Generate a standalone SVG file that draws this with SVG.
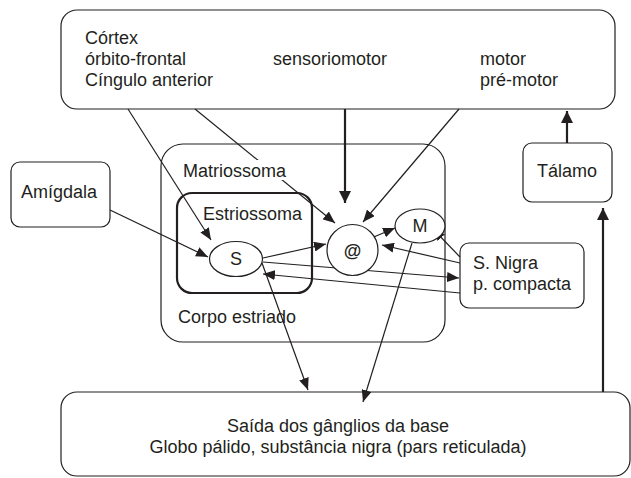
<svg xmlns="http://www.w3.org/2000/svg" width="631" height="478" viewBox="0 0 631 478">
<defs>
<style>
.box{fill:#fff;stroke:#231f20;stroke-width:1.2}
.thick{fill:#fff;stroke:#231f20;stroke-width:2.2}
.t{font-family:"Liberation Sans",Arial,sans-serif;font-size:18px;fill:#231f20}
.c{text-anchor:middle}
.ln{fill:none;stroke:#231f20;stroke-width:1.2;marker-end:url(#ah)}
.lnb{fill:none;stroke:#231f20;stroke-width:2.2;marker-end:url(#ahb)}
</style>
<marker id="ah" viewBox="0 0 12 10" refX="12" refY="5" markerWidth="12" markerHeight="10" markerUnits="userSpaceOnUse" orient="auto"><path d="M0,0 L12,5 L0,10 z" fill="#231f20"/></marker>
<marker id="ahb" viewBox="0 0 12 12" refX="12" refY="6" markerWidth="12" markerHeight="12" markerUnits="userSpaceOnUse" orient="auto"><path d="M0,0 L12,6 L0,12 z" fill="#231f20"/></marker>
</defs>
<rect width="631" height="478" fill="#fff"/>

<g id="cortex">
<rect class="box" x="61" y="10" width="554" height="99" rx="16"/>
<text class="t" x="85" y="44">Córtex</text>
<text class="t" x="85" y="65">órbito-frontal</text>
<text class="t" x="85" y="86">Cíngulo anterior</text>
<text class="t" x="273" y="65">sensoriomotor</text>
<text class="t" x="480" y="65">motor</text>
<text class="t" x="480" y="86">pré-motor</text>
</g>

<g id="talamo">
<rect class="box" x="523" y="143" width="89" height="59" rx="9"/>
<text class="t c" x="567" y="177">Tálamo</text>
</g>

<g id="amigdala">
<rect class="box" x="11" y="162" width="99" height="65" rx="9"/>
<text class="t" x="21" y="198">Amígdala</text>
</g>

<g id="corpo-estriado">
<rect class="box" x="161" y="144" width="284" height="198" rx="22"/>
<text class="t" x="178" y="323">Corpo estriado</text>
</g>

<g id="estriossoma">
<rect class="thick" x="177" y="193" width="135" height="100" rx="15"/>
<text class="t" x="203" y="220">Estriossoma</text>
</g>

<g id="snigra">
<rect class="box" x="460" y="243" width="124" height="65" rx="9"/>
<text class="t" x="473" y="269">S. Nigra</text>
<text class="t" x="473" y="290">p. compacta</text>
</g>

<g id="saida">
<rect class="box" x="61" y="392" width="569" height="84" rx="16"/>
<text class="t c" x="338" y="432">Saída dos gânglios da base</text>
<text class="t c" x="338" y="453">Globo pálido, substância nigra (pars reticulada)</text>
</g>

<g id="connectors">
<line class="ln" x1="128" y1="109" x2="211" y2="240"/>
<line class="ln" x1="195" y1="109" x2="335" y2="223"/>
<line class="lnb" x1="345" y1="109" x2="345" y2="203"/>
<line class="ln" x1="459" y1="109" x2="363" y2="222"/>
<line class="lnb" x1="567" y1="143" x2="567" y2="111"/>
<line class="lnb" x1="603" y1="392" x2="603" y2="208"/>
<line class="ln" x1="110" y1="210" x2="208" y2="257"/>
<line class="ln" x1="263" y1="258" x2="326" y2="244"/>
<line class="ln" x1="362" y1="242" x2="395" y2="228"/>
<line class="ln" x1="460" y1="257" x2="433" y2="229"/>
<line class="ln" x1="460" y1="263" x2="382" y2="245"/>
<line class="ln" x1="263" y1="262" x2="459" y2="278"/>
<line class="ln" x1="460" y1="293" x2="263" y2="274"/>
<line class="ln" x1="262" y1="263" x2="308" y2="390"/>
<line class="ln" x1="412" y1="243" x2="363" y2="402"/>
</g>

<g id="matriossoma">
<rect x="181" y="160" width="108" height="20" fill="#fff"/>
<text class="t" x="183" y="177">Matriossoma</text>
</g>

<g id="S">
<ellipse class="box" cx="236" cy="259" rx="26.5" ry="17.5"/>
<text class="t c" x="236" y="265">S</text>
</g>
<g id="at">
<circle class="box" cx="352.5" cy="250" r="25.5"/>
<text class="t c" x="352.5" y="257" font-weight="bold">@</text>
</g>
<g id="M">
<ellipse class="box" cx="420" cy="226" rx="25" ry="17"/>
<text class="t c" x="420" y="232">M</text>
</g>
</svg>
